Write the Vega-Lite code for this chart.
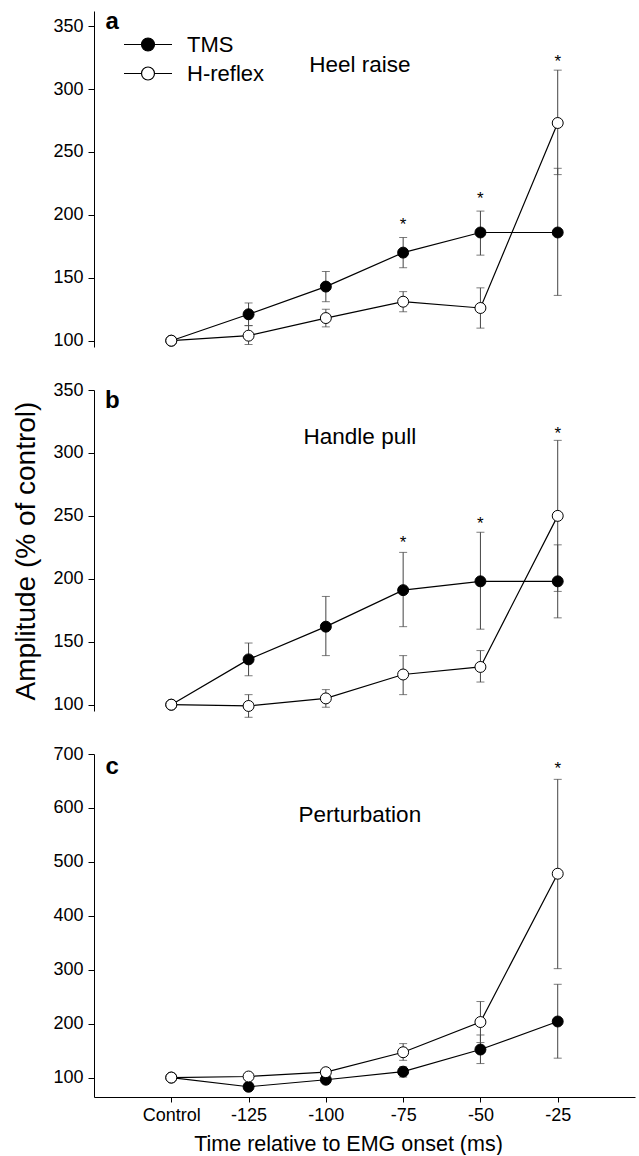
{
  "$schema": "https://vega.github.io/schema/vega-lite/v6.json",
  "padding": {"left": 12, "top": 10, "right": 2, "bottom": 0},
  "bounds": "flush",
  "spacing": 43,
  "config": {
    "font": "Liberation Sans",
    "view": {"stroke": null},
    "axis": {"grid": false, "domainColor": "black", "tickColor": "black", "labelColor": "black", "titleColor": "black", "labelFontSize": 18, "tickSize": 6, "labelPadding": 5, "titleFontWeight": "normal", "domainWidth": 1, "tickWidth": 1, "labelFont": "Liberation Sans", "titleFont": "Liberation Sans"}
  },
  "resolve": {"scale": {"fill": "independent"}, "legend": {"fill": "independent"}},
  "datasets": {
    "main": [
      {"panel": "a", "series": "TMS", "t": "Control", "i": 0, "mean": 100, "lo": null, "hi": null},
      {"panel": "a", "series": "TMS", "t": "-125", "i": 1, "mean": 121, "lo": 112, "hi": 130},
      {"panel": "a", "series": "TMS", "t": "-100", "i": 2, "mean": 143, "lo": 131, "hi": 155},
      {"panel": "a", "series": "TMS", "t": "-75", "i": 3, "mean": 170, "lo": 158, "hi": 182},
      {"panel": "a", "series": "TMS", "t": "-50", "i": 4, "mean": 186, "lo": 168, "hi": 203},
      {"panel": "a", "series": "TMS", "t": "-25", "i": 5, "mean": 186, "lo": 136, "hi": 237},
      {"panel": "a", "series": "H-reflex", "t": "Control", "i": 0, "mean": 100, "lo": null, "hi": null},
      {"panel": "a", "series": "H-reflex", "t": "-125", "i": 1, "mean": 104, "lo": 97, "hi": 112},
      {"panel": "a", "series": "H-reflex", "t": "-100", "i": 2, "mean": 118, "lo": 111, "hi": 125},
      {"panel": "a", "series": "H-reflex", "t": "-75", "i": 3, "mean": 131, "lo": 123, "hi": 139},
      {"panel": "a", "series": "H-reflex", "t": "-50", "i": 4, "mean": 126, "lo": 110, "hi": 142},
      {"panel": "a", "series": "H-reflex", "t": "-25", "i": 5, "mean": 273, "lo": 232, "hi": 315},
      {"panel": "b", "series": "TMS", "t": "Control", "i": 0, "mean": 100, "lo": null, "hi": null},
      {"panel": "b", "series": "TMS", "t": "-125", "i": 1, "mean": 136, "lo": 123, "hi": 149},
      {"panel": "b", "series": "TMS", "t": "-100", "i": 2, "mean": 162, "lo": 139, "hi": 186},
      {"panel": "b", "series": "TMS", "t": "-75", "i": 3, "mean": 191, "lo": 162, "hi": 221},
      {"panel": "b", "series": "TMS", "t": "-50", "i": 4, "mean": 198, "lo": 160, "hi": 237},
      {"panel": "b", "series": "TMS", "t": "-25", "i": 5, "mean": 198, "lo": 169, "hi": 227},
      {"panel": "b", "series": "H-reflex", "t": "Control", "i": 0, "mean": 100, "lo": null, "hi": null},
      {"panel": "b", "series": "H-reflex", "t": "-125", "i": 1, "mean": 99, "lo": 90, "hi": 108},
      {"panel": "b", "series": "H-reflex", "t": "-100", "i": 2, "mean": 105, "lo": 98, "hi": 112},
      {"panel": "b", "series": "H-reflex", "t": "-75", "i": 3, "mean": 124, "lo": 108, "hi": 139},
      {"panel": "b", "series": "H-reflex", "t": "-50", "i": 4, "mean": 130, "lo": 118, "hi": 143},
      {"panel": "b", "series": "H-reflex", "t": "-25", "i": 5, "mean": 250, "lo": 190, "hi": 310},
      {"panel": "c", "series": "TMS", "t": "Control", "i": 0, "mean": 100, "lo": null, "hi": null},
      {"panel": "c", "series": "TMS", "t": "-125", "i": 1, "mean": 83, "lo": 77, "hi": 90},
      {"panel": "c", "series": "TMS", "t": "-100", "i": 2, "mean": 96, "lo": 90, "hi": 101},
      {"panel": "c", "series": "TMS", "t": "-75", "i": 3, "mean": 111, "lo": 101, "hi": 120},
      {"panel": "c", "series": "TMS", "t": "-50", "i": 4, "mean": 152, "lo": 126, "hi": 179},
      {"panel": "c", "series": "TMS", "t": "-25", "i": 5, "mean": 204, "lo": 136, "hi": 273},
      {"panel": "c", "series": "H-reflex", "t": "Control", "i": 0, "mean": 100, "lo": null, "hi": null},
      {"panel": "c", "series": "H-reflex", "t": "-125", "i": 1, "mean": 102, "lo": 98, "hi": 106},
      {"panel": "c", "series": "H-reflex", "t": "-100", "i": 2, "mean": 110, "lo": 106, "hi": 114},
      {"panel": "c", "series": "H-reflex", "t": "-75", "i": 3, "mean": 147, "lo": 132, "hi": 163},
      {"panel": "c", "series": "H-reflex", "t": "-50", "i": 4, "mean": 203, "lo": 165, "hi": 241},
      {"panel": "c", "series": "H-reflex", "t": "-25", "i": 5, "mean": 478, "lo": 302, "hi": 653}
    ],
    "stars": [
      {"panel": "a", "t": "-75", "y": 195},
      {"panel": "a", "t": "-50", "y": 216},
      {"panel": "a", "t": "-25", "y": 325},
      {"panel": "b", "t": "-75", "y": 232},
      {"panel": "b", "t": "-50", "y": 247},
      {"panel": "b", "t": "-25", "y": 318},
      {"panel": "c", "t": "-25", "y": 679}
    ],
    "labels": [
      {"panel": "a", "kind": "letter", "t": "Control", "y": 347.6, "text": "a"},
      {"panel": "b", "kind": "letter", "t": "Control", "y": 335.7, "text": "b"},
      {"panel": "c", "kind": "letter", "t": "Control", "y": 663, "text": "c"},
      {"panel": "a", "kind": "title", "t": "-100", "y": 313.5, "text": "Heel raise"},
      {"panel": "b", "kind": "title", "t": "-100", "y": 307, "text": "Handle pull"},
      {"panel": "c", "kind": "title", "t": "-100", "y": 574, "text": "Perturbation"}
    ]
  },
  "vconcat": [
    {
      "width": 541, "height": 336,
      "encoding": {
        "x": {"field": "t", "type": "ordinal", "scale": {"type": "point", "padding": 1, "domain": ["Control", "-125", "-100", "-75", "-50", "-25"]}, "axis": null}
      },
      "layer": [
        {"data": {"name": "main"}, "transform": [{"filter": "datum.panel === 'a'"}],
         "mark": {"type": "rule", "color": "#444", "strokeWidth": 1},
         "encoding": {"y": {"field": "lo", "type": "quantitative", "scale": {"domain": [95, 362], "nice": false, "zero": false}, "axis": {"title": null, "values": [100, 150, 200, 250, 300, 350]}}, "y2": {"field": "hi"}}},
        {"data": {"name": "main"}, "transform": [{"filter": "datum.panel === 'a'"}],
         "mark": {"type": "tick", "color": "#444", "size": 8, "thickness": 1},
         "encoding": {"y": {"field": "lo", "type": "quantitative", "scale": {"domain": [95, 362], "nice": false, "zero": false}, "axis": {"title": null, "values": [100, 150, 200, 250, 300, 350]}}}},
        {"data": {"name": "main"}, "transform": [{"filter": "datum.panel === 'a'"}],
         "mark": {"type": "tick", "color": "#444", "size": 8, "thickness": 1},
         "encoding": {"y": {"field": "hi", "type": "quantitative", "scale": {"domain": [95, 362], "nice": false, "zero": false}, "axis": {"title": null, "values": [100, 150, 200, 250, 300, 350]}}}},
        {"data": {"name": "main"}, "transform": [{"filter": "datum.panel === 'a'"}],
         "mark": {"type": "line", "color": "black", "strokeWidth": 1.2},
         "encoding": {"y": {"field": "mean", "type": "quantitative", "scale": {"domain": [95, 362], "nice": false, "zero": false}, "axis": {"title": null, "values": [100, 150, 200, 250, 300, 350]}}, "detail": {"field": "series"}, "order": {"field": "i", "type": "quantitative"}}},
        {"data": {"name": "main"}, "transform": [{"filter": "datum.panel === 'a'"}],
         "mark": {"type": "point", "filled": true, "stroke": "black", "strokeWidth": 1, "size": 120, "opacity": 1},
         "encoding": {"y": {"field": "mean", "type": "quantitative", "scale": {"domain": [95, 362], "nice": false, "zero": false}, "axis": {"title": null, "values": [100, 150, 200, 250, 300, 350]}},
           "fill": {"field": "series", "type": "nominal", "scale": {"domain": ["TMS", "H-reflex"], "range": ["black", "white"]},
             "legend": {"title": null, "orient": "none", "legendX": 29, "legendY": 19, "padding": 0, "clipHeight": 29, "rowPadding": 0, "labelFontSize": 22, "labelFont": "Liberation Sans", "labelColor": "black", "labelOffset": 14, "symbolSize": 2304, "symbolStrokeColor": "black", "symbolStrokeWidth": 1.2, "symbolOpacity": 1, "symbolType": "M-1,0L-0.27,0M0.27,0L1,0M-0.27,0A0.27,0.27,0,1,0,0.27,0A0.27,0.27,0,1,0,-0.27,0Z"}}}},
        {"data": {"name": "stars"}, "transform": [{"filter": "datum.panel === 'a'"}],
         "mark": {"type": "text", "text": "*", "fontSize": 17, "baseline": "middle", "dy": 4, "color": "black"},
         "encoding": {"y": {"field": "y", "type": "quantitative", "scale": {"domain": [95, 362], "nice": false, "zero": false}, "axis": {"title": null, "values": [100, 150, 200, 250, 300, 350]}}}},
        {"data": {"name": "labels"}, "transform": [{"filter": "datum.panel === 'a' && datum.kind === 'letter'"}],
         "mark": {"type": "text", "fontSize": 24, "fontWeight": "bold", "baseline": "alphabetic", "align": "center", "dx": -59, "color": "black"},
         "encoding": {"text": {"field": "text"}, "y": {"field": "y", "type": "quantitative", "scale": {"domain": [95, 362], "nice": false, "zero": false}, "axis": {"title": null, "values": [100, 150, 200, 250, 300, 350]}}}},
        {"data": {"name": "labels"}, "transform": [{"filter": "datum.panel === 'a' && datum.kind === 'title'"}],
         "mark": {"type": "text", "fontSize": 22.5, "baseline": "alphabetic", "align": "center", "dx": 34, "color": "black"},
         "encoding": {"text": {"field": "text"}, "y": {"field": "y", "type": "quantitative", "scale": {"domain": [95, 362], "nice": false, "zero": false}, "axis": {"title": null, "values": [100, 150, 200, 250, 300, 350]}}}}
      ]
    },
    {
      "width": 541, "height": 321,
      "encoding": {
        "x": {"field": "t", "type": "ordinal", "scale": {"type": "point", "padding": 1, "domain": ["Control", "-125", "-100", "-75", "-50", "-25"]}, "axis": null}
      },
      "layer": [
        {"data": {"name": "main"}, "transform": [{"filter": "datum.panel === 'b'"}],
         "mark": {"type": "rule", "color": "#444", "strokeWidth": 1},
         "encoding": {"y": {"field": "lo", "type": "quantitative", "scale": {"domain": [95, 350], "nice": false, "zero": false}, "axis": {"title": "Amplitude (% of control)", "titleFontSize": 28, "titlePadding": 12, "values": [100, 150, 200, 250, 300, 350]}}, "y2": {"field": "hi"}}},
        {"data": {"name": "main"}, "transform": [{"filter": "datum.panel === 'b'"}],
         "mark": {"type": "tick", "color": "#444", "size": 8, "thickness": 1},
         "encoding": {"y": {"field": "lo", "type": "quantitative", "scale": {"domain": [95, 350], "nice": false, "zero": false}, "axis": {"title": "Amplitude (% of control)", "titleFontSize": 28, "titlePadding": 12, "values": [100, 150, 200, 250, 300, 350]}}}},
        {"data": {"name": "main"}, "transform": [{"filter": "datum.panel === 'b'"}],
         "mark": {"type": "tick", "color": "#444", "size": 8, "thickness": 1},
         "encoding": {"y": {"field": "hi", "type": "quantitative", "scale": {"domain": [95, 350], "nice": false, "zero": false}, "axis": {"title": "Amplitude (% of control)", "titleFontSize": 28, "titlePadding": 12, "values": [100, 150, 200, 250, 300, 350]}}}},
        {"data": {"name": "main"}, "transform": [{"filter": "datum.panel === 'b'"}],
         "mark": {"type": "line", "color": "black", "strokeWidth": 1.2},
         "encoding": {"y": {"field": "mean", "type": "quantitative", "scale": {"domain": [95, 350], "nice": false, "zero": false}, "axis": {"title": "Amplitude (% of control)", "titleFontSize": 28, "titlePadding": 12, "values": [100, 150, 200, 250, 300, 350]}}, "detail": {"field": "series"}, "order": {"field": "i", "type": "quantitative"}}},
        {"data": {"name": "main"}, "transform": [{"filter": "datum.panel === 'b'"}],
         "mark": {"type": "point", "filled": true, "stroke": "black", "strokeWidth": 1, "size": 120, "opacity": 1},
         "encoding": {"y": {"field": "mean", "type": "quantitative", "scale": {"domain": [95, 350], "nice": false, "zero": false}, "axis": {"title": "Amplitude (% of control)", "titleFontSize": 28, "titlePadding": 12, "values": [100, 150, 200, 250, 300, 350]}},
           "fill": {"field": "series", "type": "nominal", "scale": {"domain": ["TMS", "H-reflex"], "range": ["black", "white"]}, "legend": null}}},
        {"data": {"name": "stars"}, "transform": [{"filter": "datum.panel === 'b'"}],
         "mark": {"type": "text", "text": "*", "fontSize": 17, "baseline": "middle", "dy": 4, "color": "black"},
         "encoding": {"y": {"field": "y", "type": "quantitative", "scale": {"domain": [95, 350], "nice": false, "zero": false}, "axis": {"title": "Amplitude (% of control)", "titleFontSize": 28, "titlePadding": 12, "values": [100, 150, 200, 250, 300, 350]}}}},
        {"data": {"name": "labels"}, "transform": [{"filter": "datum.panel === 'b' && datum.kind === 'letter'"}],
         "mark": {"type": "text", "fontSize": 24, "fontWeight": "bold", "baseline": "alphabetic", "align": "center", "dx": -59, "color": "black"},
         "encoding": {"text": {"field": "text"}, "y": {"field": "y", "type": "quantitative", "scale": {"domain": [95, 350], "nice": false, "zero": false}, "axis": {"title": "Amplitude (% of control)", "titleFontSize": 28, "titlePadding": 12, "values": [100, 150, 200, 250, 300, 350]}}}},
        {"data": {"name": "labels"}, "transform": [{"filter": "datum.panel === 'b' && datum.kind === 'title'"}],
         "mark": {"type": "text", "fontSize": 22.5, "baseline": "alphabetic", "align": "center", "dx": 34, "color": "black"},
         "encoding": {"text": {"field": "text"}, "y": {"field": "y", "type": "quantitative", "scale": {"domain": [95, 350], "nice": false, "zero": false}, "axis": {"title": "Amplitude (% of control)", "titleFontSize": 28, "titlePadding": 12, "values": [100, 150, 200, 250, 300, 350]}}}}
      ]
    },
    {
      "width": 541, "height": 343,
      "encoding": {
        "x": {"field": "t", "type": "ordinal", "scale": {"type": "point", "padding": 1, "domain": ["Control", "-125", "-100", "-75", "-50", "-25"]},
          "axis": {"title": "Time relative to EMG onset (ms)", "titleFontSize": 21.5, "titlePadding": 9, "titleX": 254, "labelAngle": 0, "tickSize": 5, "labelPadding": 4}}
      },
      "layer": [
        {"data": {"name": "main"}, "transform": [{"filter": "datum.panel === 'c'"}],
         "mark": {"type": "rule", "color": "#444", "strokeWidth": 1},
         "encoding": {"y": {"field": "lo", "type": "quantitative", "scale": {"domain": [64, 700], "nice": false, "zero": false}, "axis": {"title": null, "values": [100, 200, 300, 400, 500, 600, 700]}}, "y2": {"field": "hi"}}},
        {"data": {"name": "main"}, "transform": [{"filter": "datum.panel === 'c'"}],
         "mark": {"type": "tick", "color": "#444", "size": 8, "thickness": 1},
         "encoding": {"y": {"field": "lo", "type": "quantitative", "scale": {"domain": [64, 700], "nice": false, "zero": false}, "axis": {"title": null, "values": [100, 200, 300, 400, 500, 600, 700]}}}},
        {"data": {"name": "main"}, "transform": [{"filter": "datum.panel === 'c'"}],
         "mark": {"type": "tick", "color": "#444", "size": 8, "thickness": 1},
         "encoding": {"y": {"field": "hi", "type": "quantitative", "scale": {"domain": [64, 700], "nice": false, "zero": false}, "axis": {"title": null, "values": [100, 200, 300, 400, 500, 600, 700]}}}},
        {"data": {"name": "main"}, "transform": [{"filter": "datum.panel === 'c'"}],
         "mark": {"type": "line", "color": "black", "strokeWidth": 1.2},
         "encoding": {"y": {"field": "mean", "type": "quantitative", "scale": {"domain": [64, 700], "nice": false, "zero": false}, "axis": {"title": null, "values": [100, 200, 300, 400, 500, 600, 700]}}, "detail": {"field": "series"}, "order": {"field": "i", "type": "quantitative"}}},
        {"data": {"name": "main"}, "transform": [{"filter": "datum.panel === 'c'"}],
         "mark": {"type": "point", "filled": true, "stroke": "black", "strokeWidth": 1, "size": 120, "opacity": 1},
         "encoding": {"y": {"field": "mean", "type": "quantitative", "scale": {"domain": [64, 700], "nice": false, "zero": false}, "axis": {"title": null, "values": [100, 200, 300, 400, 500, 600, 700]}},
           "fill": {"field": "series", "type": "nominal", "scale": {"domain": ["TMS", "H-reflex"], "range": ["black", "white"]}, "legend": null}}},
        {"data": {"name": "stars"}, "transform": [{"filter": "datum.panel === 'c'"}],
         "mark": {"type": "text", "text": "*", "fontSize": 17, "baseline": "middle", "dy": 4, "color": "black"},
         "encoding": {"y": {"field": "y", "type": "quantitative", "scale": {"domain": [64, 700], "nice": false, "zero": false}, "axis": {"title": null, "values": [100, 200, 300, 400, 500, 600, 700]}}}},
        {"data": {"name": "labels"}, "transform": [{"filter": "datum.panel === 'c' && datum.kind === 'letter'"}],
         "mark": {"type": "text", "fontSize": 24, "fontWeight": "bold", "baseline": "alphabetic", "align": "center", "dx": -59, "color": "black"},
         "encoding": {"text": {"field": "text"}, "y": {"field": "y", "type": "quantitative", "scale": {"domain": [64, 700], "nice": false, "zero": false}, "axis": {"title": null, "values": [100, 200, 300, 400, 500, 600, 700]}}}},
        {"data": {"name": "labels"}, "transform": [{"filter": "datum.panel === 'c' && datum.kind === 'title'"}],
         "mark": {"type": "text", "fontSize": 22.5, "baseline": "alphabetic", "align": "center", "dx": 34, "color": "black"},
         "encoding": {"text": {"field": "text"}, "y": {"field": "y", "type": "quantitative", "scale": {"domain": [64, 700], "nice": false, "zero": false}, "axis": {"title": null, "values": [100, 200, 300, 400, 500, 600, 700]}}}}
      ]
    }
  ]
}
